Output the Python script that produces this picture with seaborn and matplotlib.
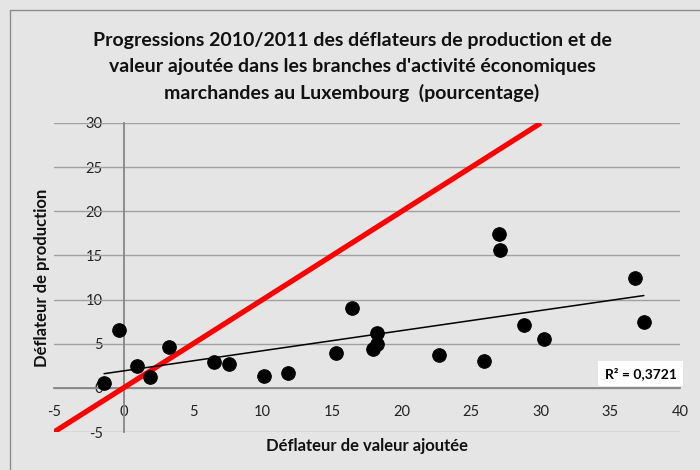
import matplotlib
matplotlib.use("Agg")
import matplotlib.pyplot as plt
import seaborn as sns
import pandas as pd
from matplotlib.lines import Line2D

# Progressions 2010/2011 (%) par branche
deflateur_va = [-1.4, -0.3, 1.0, 1.9, 3.3, 6.5, 7.6, 10.1, 11.8, 15.3, 16.4,
                17.9, 18.2, 18.2, 22.7, 25.9, 27.0, 27.05, 28.8, 30.2, 36.8, 37.4]
deflateur_prod = [0.6, 6.5, 2.5, 1.2, 4.6, 2.9, 2.7, 1.3, 1.7, 4.0, 9.1,
                  4.4, 5.0, 6.2, 3.7, 3.0, 17.4, 15.6, 7.1, 5.5, 12.5, 7.5]
diag = [-5, 30]
x_ticks = [-5, 0, 5, 10, 15, 20, 25, 30, 35, 40]
y_ticks = [-5, 0, 5, 10, 15, 20, 25, 30]
r2_label = "R² = 0,3721"

df = pd.DataFrame({"va": deflateur_va, "prod": deflateur_prod})

sns.set_theme(style="white")
plt.rcParams["font.family"] = ["Lato", "DejaVu Sans"]

bg = "#e5e5e5"
fig = plt.figure(figsize=(7, 4.7), dpi=100, facecolor=bg)
ax = fig.add_axes([54 / 700, 1 - 432 / 470, 626 / 700, 309 / 470])
ax.set_facecolor(bg)

# frame of the chart area (left and top edges visible)
fig.add_artist(Line2D([10 / 700, 10 / 700], [0, 1 - 10 / 470], color="#8c8c8c", lw=1))
fig.add_artist(Line2D([10 / 700, 1], [1 - 10 / 470, 1 - 10 / 470], color="#8c8c8c", lw=1))

for yv in y_ticks:
    ax.axhline(yv, color="#a0a0a0", lw=1, zorder=1)

sns.lineplot(x=diag, y=diag, color="#ff0000", lw=3.8, ax=ax, zorder=3,
             solid_capstyle="butt")
sns.regplot(data=df, x="va", y="prod", scatter=False, ci=None, ax=ax,
            line_kws={"color": "black", "lw": 1.1, "zorder": 4})
sns.scatterplot(data=df, x="va", y="prod", color="black", s=95,
                edgecolor="black", ax=ax, zorder=5)

ax.set_xlim(-5, 40)
ax.set_ylim(-5, 30)
ax.set_xticks(x_ticks)
ax.set_yticks(y_ticks)
ax.set_xticklabels([str(t) for t in x_ticks])
ax.set_yticklabels([str(t) for t in y_ticks])

ax.spines["left"].set_position(("data", 0))
ax.spines["bottom"].set_position(("data", 0))
for s in ["left", "bottom"]:
    ax.spines[s].set_color("#868686")
    ax.spines[s].set_linewidth(1.3)
    ax.spines[s].set_zorder(2)
ax.spines["top"].set_visible(False)
ax.spines["right"].set_visible(False)
ax.tick_params(axis="both", direction="out", length=4, width=1, color="#868686",
               labelsize=10.5, labelcolor="#222222")
ax.tick_params(axis="x", pad=8)
ax.tick_params(axis="y", pad=11)
for lab in ax.get_xticklabels() + ax.get_yticklabels():
    lab.set_zorder(6)

ax.set_xlabel("")
ax.set_ylabel("")
fig.text(367 / 700, 1 - 446 / 470, "Déflateur de valeur ajoutée", ha="center", va="center",
         fontsize=12, fontweight="bold", color="#111111")
fig.text(42 / 700, 1 - 278 / 470, "Déflateur de production", ha="center", va="center",
         rotation=90, fontsize=12, fontweight="bold", color="#111111")

fig.text(352 / 700, 1 - 67 / 470,
         "Progressions 2010/2011 des déflateurs de production et de\n"
         "valeur ajoutée dans les branches d'activité économiques\n"
         "marchandes au Luxembourg  (pourcentage)",
         ha="center", va="center", fontsize=14, fontweight="bold",
         color="#111111", linespacing=1.62)

ax.text(0.937, 0.19, r2_label, transform=ax.transAxes, ha="center", va="center",
        fontsize=10, fontweight="bold", color="black", zorder=7,
        bbox=dict(boxstyle="square,pad=0.45", fc="white", ec="none"))

fig.savefig("out.png", dpi=100, facecolor=bg)
